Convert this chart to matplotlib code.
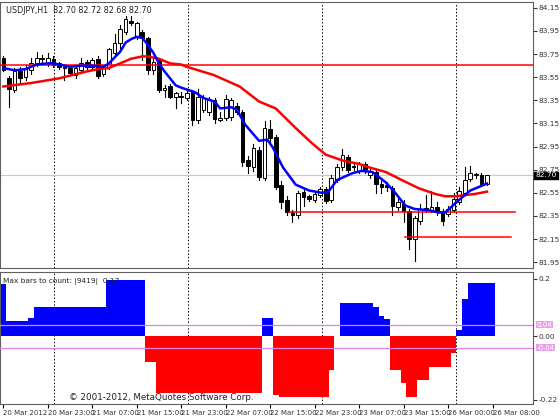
import matplotlib
matplotlib.use("Agg")
import matplotlib.pyplot as plt
from matplotlib.patches import Rectangle

# ---- data ----
opens  = [83.72,83.54,83.44,83.60,83.55,83.61,83.67,83.71,83.67,83.71,83.67,83.64,83.63,83.57,83.61,83.68,83.64,83.71,83.58,83.64,
          83.76,83.85,83.94,84.04,83.90,83.94,83.89,83.61,83.70,83.44,83.47,83.38,83.39,83.37,83.42,83.18,83.27,83.25,83.35,83.18,
          83.20,83.21,83.30,83.25,82.83,82.77,82.92,82.68,83.10,83.03,82.62,82.49,82.38,82.36,82.56,82.52,82.49,82.53,82.58,82.49,
          82.66,82.77,82.86,82.78,82.74,82.80,82.70,82.73,82.63,82.62,82.59,82.43,82.45,82.39,82.15,82.31,82.40,82.40,82.43,82.39,
          82.37,82.40,82.47,82.55,82.67,82.70,82.70,82.63]
highs  = [83.73,83.56,83.63,83.64,83.66,83.72,83.77,83.74,83.76,83.73,83.68,83.66,83.64,83.64,83.72,83.70,83.72,83.73,83.65,83.80,
          83.92,84.00,84.08,84.08,84.03,83.96,83.90,83.72,83.72,83.48,83.49,83.42,83.42,83.43,83.44,83.45,83.40,83.38,83.37,83.25,
          83.40,83.37,83.33,83.27,82.87,82.97,82.95,83.17,83.18,83.05,82.65,82.52,82.40,82.57,82.58,82.53,82.56,82.60,82.60,82.70,
          82.80,82.93,82.88,82.82,82.82,82.82,82.76,82.76,82.65,82.64,82.61,82.52,82.49,82.41,82.35,82.45,82.53,82.57,82.47,82.41,
          82.44,82.55,82.60,82.77,82.78,82.72,82.72,82.70]
lows   = [83.60,83.29,83.42,83.50,83.53,83.58,83.65,83.68,83.65,83.64,83.62,83.53,83.56,83.54,83.59,83.61,83.62,83.54,83.56,83.62,
          83.74,83.80,83.92,84.00,83.88,83.70,83.58,83.58,83.42,83.38,83.37,83.28,83.33,83.35,83.14,83.15,83.25,83.22,83.15,83.17,
          83.18,83.18,83.23,82.78,82.72,82.74,82.66,82.66,82.97,82.58,82.42,82.36,82.30,82.33,82.44,82.48,82.47,82.51,82.46,82.47,
          82.64,82.75,82.73,82.75,82.72,82.72,82.68,82.55,82.55,82.57,82.36,82.40,82.30,82.06,81.96,82.28,82.38,82.38,82.36,82.27,
          82.35,82.38,82.45,82.53,82.65,82.68,82.62,82.62]
closes = [83.61,83.45,83.60,83.54,83.63,83.67,83.72,83.72,83.72,83.66,83.64,83.63,83.59,83.63,83.67,83.64,83.70,83.56,83.63,83.79,
          83.85,83.97,84.05,84.02,84.02,83.89,83.61,83.68,83.44,83.46,83.38,83.41,83.38,83.41,83.18,83.38,83.37,83.35,83.19,83.20,
          83.36,83.35,83.25,82.82,82.78,82.94,82.69,83.11,83.02,82.60,82.47,82.38,82.36,82.55,82.51,82.50,82.54,82.58,82.48,82.68,
          82.77,82.88,82.75,82.77,82.80,82.75,82.74,82.63,82.60,82.60,82.44,82.47,82.39,82.15,82.33,82.41,82.42,82.43,82.38,82.31,
          82.41,82.50,82.57,82.66,82.72,82.71,82.63,82.70]

fast_x = [0,2,4,6,8,9,12,14,16,18,19,20,21,22,23,24,25,26,27,28,29,30,31,32,34.5,36,38,39,41,42,43.5,46,47.5,48.5,50.3,52.6,55,57.3,58.5,60,62.8,64.4,66.4,68.8,70.5,72.3,74,76.5,78.3,79.5,81.3,83,84,85.5,87]
fast_y = [83.63,83.61,83.62,83.66,83.67,83.67,83.64,83.65,83.65,83.64,83.67,83.72,83.77,83.85,83.88,83.90,83.89,83.83,83.76,83.67,83.60,83.54,83.48,83.46,83.42,83.37,83.34,83.28,83.29,83.27,83.14,83.00,83.01,82.94,82.77,82.62,82.57,82.55,82.56,82.66,82.72,82.74,82.73,82.64,82.55,82.44,82.41,82.40,82.38,82.38,82.46,82.53,82.57,82.60,82.63]
slow_x = [0,5,10,15,17,19,21,23,25,26,27,28,30,32,33,37.8,42.5,46,49,52.6,55.5,58,61,64,65.8,68.8,71.7,74.7,77.7,79.5,81.3,83,84.8,87]
slow_y = [83.47,83.50,83.54,83.60,83.62,83.63,83.67,83.71,83.73,83.73,83.72,83.71,83.67,83.66,83.64,83.57,83.47,83.34,83.28,83.11,82.98,82.88,82.83,82.80,82.77,82.73,82.66,82.59,82.54,82.52,82.52,82.53,82.54,82.56]

levels = [(83.66, -1, 96), (82.38, 51.3, 92), (82.17, 72.3, 91.4)]

hist = [0.18,0.053,0.053,0.053,0.053,0.064,0.103,0.103,0.103,0.103,0.103,0.103,0.103,0.103,0.103,0.103,0.103,0.103,0.103,0.194,
        0.194,0.194,0.194,0.194,0.194,0.194,-0.089,-0.089,-0.197,-0.197,-0.197,-0.197,-0.197,-0.197,-0.197,-0.197,-0.197,-0.197,-0.197,-0.197,
        -0.197,-0.197,-0.197,-0.197,-0.197,-0.197,-0.197,0.064,0.064,-0.205,-0.21,-0.21,-0.21,-0.21,-0.21,-0.21,-0.21,-0.21,-0.21,-0.117,
        0.0,0.114,0.114,0.114,0.114,0.114,0.114,0.103,0.07,0.058,-0.117,-0.117,-0.163,-0.21,-0.21,-0.152,-0.152,-0.106,-0.106,-0.106,
        -0.106,-0.058,0.022,0.128,0.186,0.186,0.186,0.186,0.186]

xlabels = ["20 Mar 2012","20 Mar 23:00","21 Mar 07:00","21 Mar 15:00","21 Mar 23:00","22 Mar 07:00",
           "22 Mar 15:00","22 Mar 23:00","23 Mar 07:00","23 Mar 15:00","26 Mar 00:00","26 Mar 08:00"]
separators = [9.2, 33.3, 57.4, 81.5]
price_ticks = [84.15,83.95,83.75,83.55,83.35,83.15,82.95,82.75,82.55,82.35,82.15,81.95]

# ---- figure ----
fig = plt.figure(figsize=(5.6,4.2), dpi=100)
ax = fig.add_axes([0.0, 0.362, 0.952, 0.633])
ax2 = fig.add_axes([0.0, 0.038, 0.952, 0.314])
XMAX = 95.3
for a in (ax, ax2):
    a.set_xlim(-0.6, XMAX)
    for s in a.spines.values():
        s.set_color('#606060'); s.set_linewidth(0.8)
    for sx in separators:
        a.axvline(sx, color='black', ls=(0,(1.5,2)), lw=0.7, zorder=0)
    a.yaxis.tick_right()
    a.tick_params(axis='y', labelsize=5.3, length=3, pad=1, colors='#333333')
    a.set_xticks([])

ax.set_ylim(81.90, 84.20)
ax.set_yticks(price_ticks)
ax.set_yticklabels([f"{t:.2f}" for t in price_ticks])
ax.axhline(82.70, color='#c8c8c8', lw=0.8, zorder=0)

for i,(o,h,l,c) in enumerate(zip(opens,highs,lows,closes)):
    ax.plot([i,i],[l,h], color='black', lw=0.8, zorder=2)
    lo, hi = min(o,c), max(o,c)
    ax.add_patch(Rectangle((i-0.33, lo), 0.66, max(hi-lo,0.006),
                           facecolor='black' if c < o else 'white', edgecolor='black', lw=0.7, zorder=3))

ax.plot(slow_x, slow_y, color='#ff0000', lw=1.8, zorder=4)
ax.plot(fast_x, fast_y, color='#0000ff', lw=1.8, zorder=5)
for y, x0, x1 in levels:
    ax.plot([x0,x1],[y,y], color='#ff0000', lw=1.1, zorder=4)

ax.text(XMAX+0.4, 82.70, "82.70", fontsize=5.3, color='white', va='center', ha='left',
        bbox=dict(boxstyle='square,pad=0.12', fc='black', ec='black'), clip_on=False, zorder=10)
ax.text(0.012, 0.985, "USDJPY,H1  82.70 82.72 82.68 82.70", transform=ax.transAxes,
        fontsize=5.8, va='top', ha='left', color='#222222')

ax2.set_ylim(-0.235, 0.222)
ax2.bar(range(len(hist)), hist, width=1.0, color=['#0000ff' if v>0 else '#ff0000' for v in hist], lw=0, zorder=2)
ax2.axhline(0.04, color='#e080e0', lw=0.9, zorder=3)
ax2.axhline(-0.04, color='#e080e0', lw=0.9, zorder=3)
ax2.set_yticks([0.2, 0.0, -0.22])
ax2.set_yticklabels(["0.2", "0.00", "-0.22"])
for v, s in [(0.04,"0.04"),(-0.04,"-0.04")]:
    ax2.text(XMAX+0.6, v, s, fontsize=5, color='white', va='center', ha='left',
             bbox=dict(boxstyle='square,pad=0.1', fc='#e8a0e8', ec='none'), clip_on=False)
ax2.text(0.006, 0.955, "Max bars to count: |9419|  0.17", transform=ax2.transAxes,
         fontsize=5.3, va='top', ha='left', color='#222222')
ax2.text(0.13, 0.015, "© 2001-2012, MetaQuotes Software Corp.", transform=ax2.transAxes,
         fontsize=6.3, va='bottom', ha='left', color='#222222')

ax2.set_xticks([8*i for i in range(len(xlabels))])
ax2.set_xticklabels(xlabels, fontsize=5.0, ha='left', color='#333333')
ax2.tick_params(axis='x', length=3, pad=1)

fig.savefig("out.png", dpi=100, facecolor='white')
